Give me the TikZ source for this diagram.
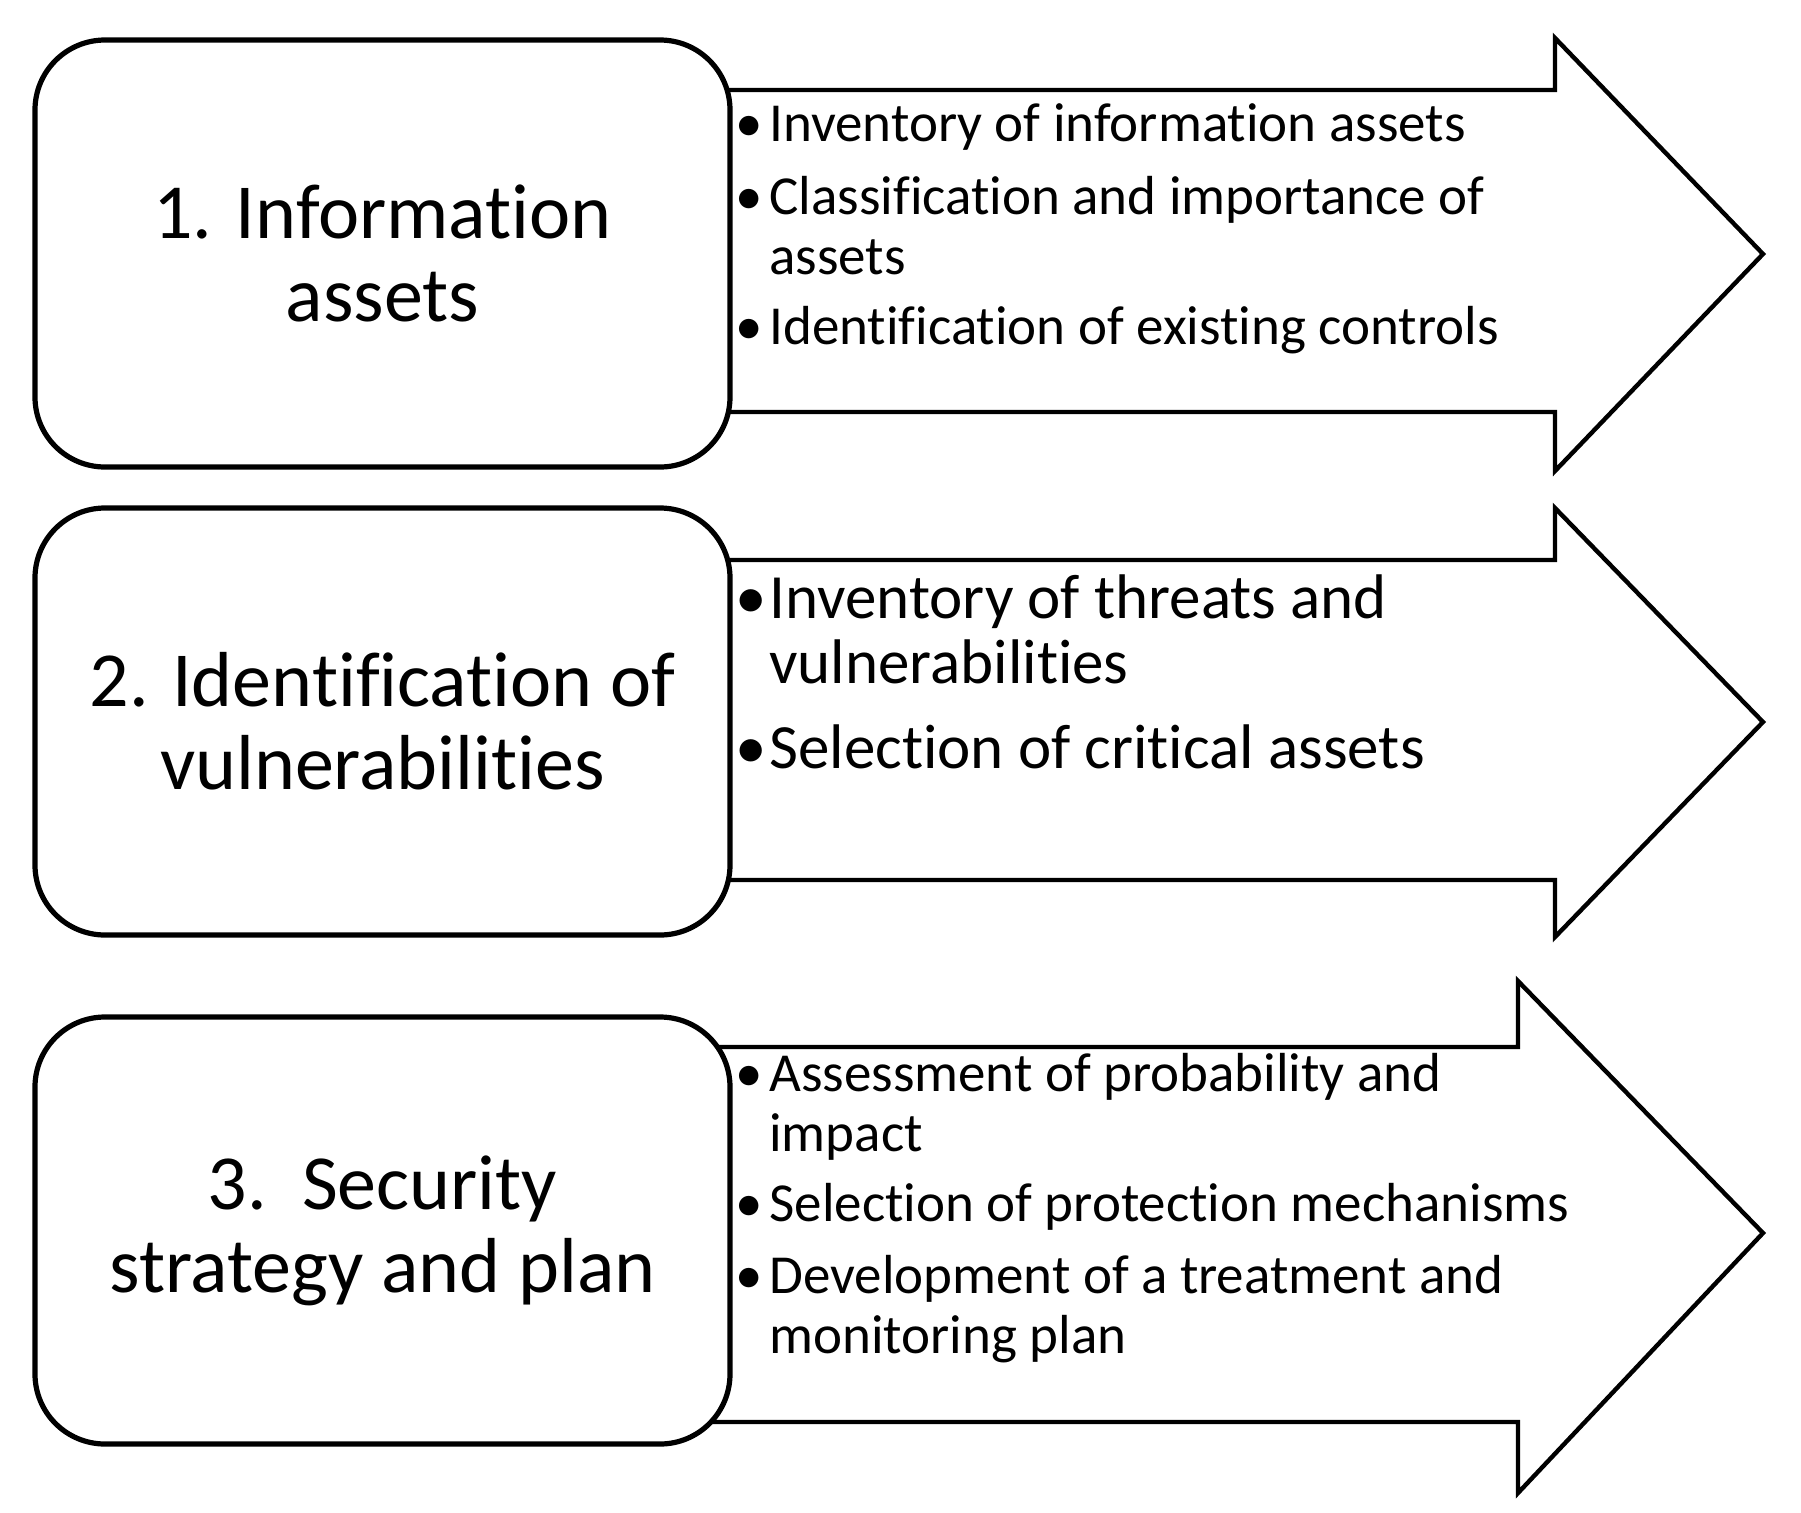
\documentclass[tikz,border=0pt]{standalone}
\usepackage{fontspec}
\setmainfont{Carlito}[Ligatures=NoCommon]
\newcommand{\itm}{\makebox[17pt][l]{\textbullet}}
\newcommand{\cnt}{\hspace*{17pt}}
\tikzset{
  stage/.style={draw, line width=2.6pt, rounded corners=35pt, fill=white,
    minimum width=347.5pt, minimum height=213.5pt, inner sep=0pt,
    align=center, font=\fontsize{39}{41.5}\selectfont},
  flow/.style={draw, line width=2.2pt, fill=white},
  items/.style={anchor=base west, align=left, inner sep=0pt},
}
\begin{document}
\begin{tikzpicture}[x=0.5pt, y=-0.5pt]
  \useasboundingbox (0,0) rectangle (1801,1512);
  % arrows behind the boxes
  \draw[flow] (700,90) -- (1555,90) -- (1555,38) -- (1763,254) -- (1555,471) -- (1555,412) -- (700,412);
  \draw[flow] (700,560) -- (1555,560) -- (1555,508) -- (1763,722) -- (1555,937) -- (1555,880) -- (700,880);
  \draw[flow] (700,1047) -- (1518,1047) -- (1518,981) -- (1763,1233) -- (1518,1493) -- (1518,1422) -- (700,1422);
  % stages
  \node[stage] (assets) at (382.5,253.5) {1. Information\\assets};
  \node[stage] (vuln) at (382.5,721.5) {2. Identification of\\vulnerabilities};
  \node[stage] (plan) at (382.5,1230.5) {3.\ \ Security\\strategy and plan};
  % bullet lists (anchored at the last line)
  \node[items, font=\fontsize{27.5}{30}\selectfont] (assetlist) at (735,344)
    {\itm Inventory of information assets\\[6.5pt]
     \itm Classification and importance of\\
     \cnt assets\\[5pt]
     \itm Identification of existing controls};
  \node[items, font=\fontsize{31.5}{32.5}\selectfont] (vulnlist) at (735,768)
    {\itm Inventory of threats and\\
     \cnt vulnerabilities\\[10pt]
     \itm Selection of critical assets};
  \node[items, font=\fontsize{27.5}{30}\selectfont] (planlist) at (735,1353)
    {\itm Assessment of probability and\\
     \cnt impact\\[5pt]
     \itm Selection of protection mechanisms\\[6pt]
     \itm Development of a treatment and\\
     \cnt monitoring plan};
\end{tikzpicture}
\end{document}
